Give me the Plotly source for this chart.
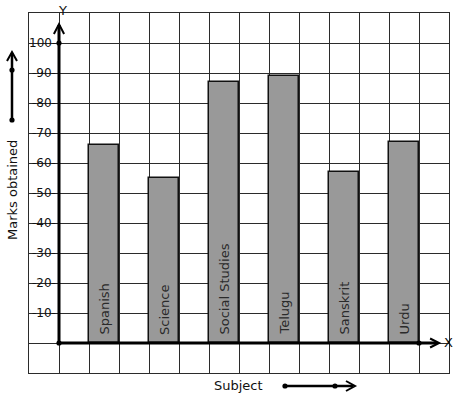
import plotly.graph_objects as go

subjects = ["Spanish", "Science", "Social Studies", "Telugu", "Sanskrit", "Urdu"]
marks = [66, 55, 87, 89, 57, 67]
y_ticks = [10, 20, 30, 40, 50, 60, 70, 80, 90, 100]

FONT = "DejaVu Sans"
W, H = 457, 399
ML, MR, MT, MB = 29, 8, 13, 26
PW = W - ML - MR
PH = H - MT - MB


def pp(x, y):
    """page pixel -> paper coords"""
    return (x - ML) / PW, (H - MB - y) / PH


xpos = [1.5 + 2 * i for i in range(len(subjects))]

fig = go.Figure()
fig.add_trace(go.Bar(
    x=xpos, y=marks, width=1,
    marker=dict(color="#999999", line=dict(color="#111111", width=1.5)),
    hoverinfo="skip", showlegend=False,
))

annotations = []
for xp, s in zip(xpos, subjects):
    annotations.append(dict(x=xp, y=0, xref="x", yref="y", text=s, textangle=-90,
                            showarrow=False, xanchor="center", yanchor="bottom", yshift=6,
                            font=dict(family=FONT, size=13, color="#2a2a2a")))
for v in y_ticks:
    t = f"{v}-" if v == 100 else f"-{v}-"
    annotations.append(dict(x=0, y=v, xref="x", yref="y", text=t, showarrow=False,
                            xanchor="right", yanchor="middle", xshift=-1,
                            font=dict(family=FONT, size=12, color="#111111")))

ax, ay = pp(62, 10)
annotations.append(dict(x=ax, y=ay, xref="paper", yref="paper", text="Y", showarrow=False,
                        xanchor="center", yanchor="middle", font=dict(family=FONT, size=13, color="#111")))
ax, ay = pp(448, 342)
annotations.append(dict(x=ax, y=ay, xref="paper", yref="paper", text="X", showarrow=False,
                        xanchor="center", yanchor="middle", font=dict(family=FONT, size=13, color="#111")))
ax, ay = pp(12, 190)
annotations.append(dict(x=ax, y=ay, xref="paper", yref="paper", text="Marks obtained", textangle=-90,
                        showarrow=False, xanchor="center", yanchor="middle",
                        font=dict(family=FONT, size=13, color="#111")))
ax, ay = pp(238, 385)
annotations.append(dict(x=ax, y=ay, xref="paper", yref="paper", text="Subject",
                        showarrow=False, xanchor="center", yanchor="middle",
                        font=dict(family=FONT, size=13, color="#111")))

shapes = []
shapes.append(dict(type="line", xref="x", yref="y", x0=0, y0=0, x1=12.6, y1=0,
                   line=dict(color="black", width=3)))
shapes.append(dict(type="line", xref="x", yref="y", x0=0, y0=0, x1=0, y1=106,
                   line=dict(color="black", width=3)))
shapes.append(dict(type="path", xref="x", yref="y",
                   path="M -0.17,103 L 0,106.3 L 0.17,103",
                   line=dict(color="black", width=2)))
shapes.append(dict(type="path", xref="x", yref="y",
                   path="M 12.37,1.5 L 12.67,0 L 12.37,-1.5",
                   line=dict(color="black", width=2)))


def ppath(pts):
    s = []
    for i, (x, y) in enumerate(pts):
        px_, py_ = pp(x, y)
        s.append(("M" if i == 0 else "L") + f" {px_:.5f},{py_:.5f}")
    return " ".join(s)


shapes.append(dict(type="path", xref="paper", yref="paper", path=ppath([(12, 120), (12, 53)]),
                   line=dict(color="black", width=2.5)))
shapes.append(dict(type="path", xref="paper", yref="paper", path=ppath([(7, 61), (12, 52), (17, 61)]),
                   line=dict(color="black", width=2)))
shapes.append(dict(type="path", xref="paper", yref="paper", path=ppath([(285, 386), (353, 386)]),
                   line=dict(color="black", width=2.5)))
shapes.append(dict(type="path", xref="paper", yref="paper", path=ppath([(346, 381), (355, 386), (346, 391)]),
                   line=dict(color="black", width=2)))


def dot(xa, ya, xref, yref, r=2.6):
    return dict(type="circle", xref=xref, yref=yref, xsizemode="pixel", ysizemode="pixel",
                xanchor=xa, yanchor=ya, x0=-r, x1=r, y0=-r, y1=r,
                fillcolor="black", line=dict(color="black", width=0))


shapes.append(dot(0, 0, "x", "y"))
shapes.append(dot(0, 100, "x", "y"))
shapes.append(dot(12, 0, "x", "y"))
for (x, y) in [(12, 70), (12, 120), (285, 386), (335, 386)]:
    a, b = pp(x, y)
    shapes.append(dot(a, b, "paper", "paper"))

fig.update_layout(
    width=W, height=H,
    margin=dict(l=ML, r=MR, t=MT, b=MB, pad=0),
    paper_bgcolor="white", plot_bgcolor="white",
    xaxis=dict(range=[-1, 13], dtick=1, tick0=0, showgrid=True, gridcolor="#2b2b2b", gridwidth=1,
               showticklabels=False, ticks="", zeroline=False, showline=True, mirror=True,
               linecolor="#2b2b2b", linewidth=1, fixedrange=True),
    yaxis=dict(range=[-10, 110], dtick=10, tick0=0, showgrid=True, gridcolor="#2b2b2b", gridwidth=1,
               showticklabels=False, ticks="", zeroline=False, showline=True, mirror=True,
               linecolor="#2b2b2b", linewidth=1, fixedrange=True),
    bargap=0,
    annotations=annotations,
    shapes=shapes,
    showlegend=False,
)

fig.write_html("out.html", config={"displayModeBar": False},
               post_script="document.body.style.margin='0';document.body.style.overflow='hidden';")
